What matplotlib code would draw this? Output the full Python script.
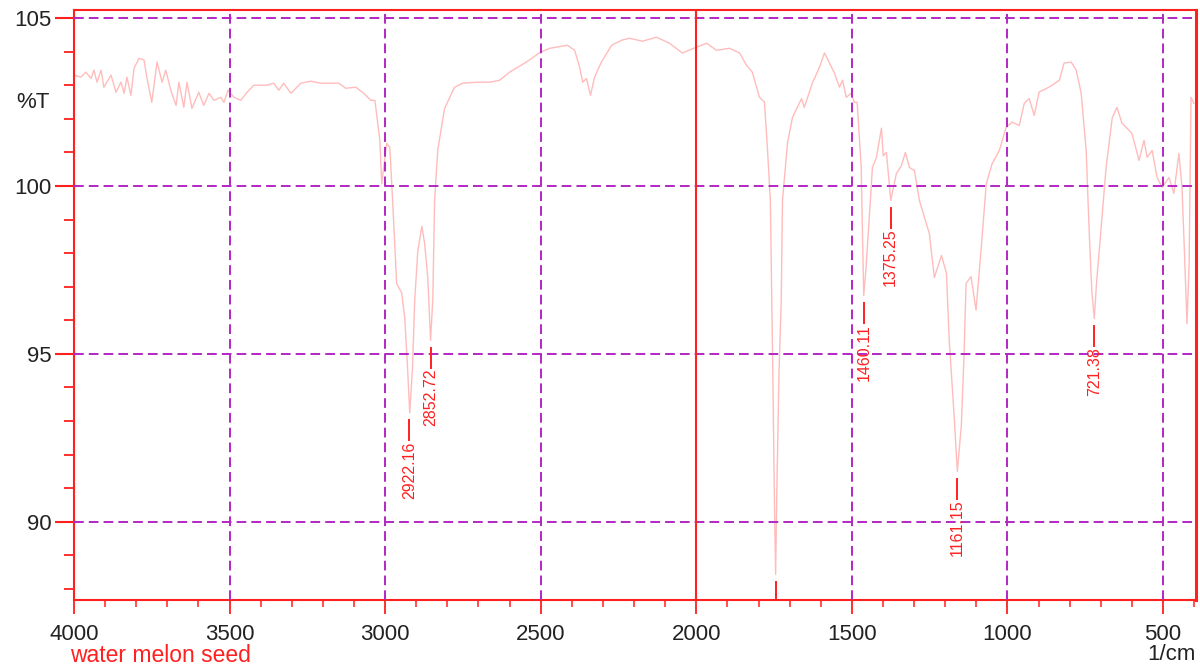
import matplotlib
matplotlib.use("Agg")
import matplotlib.pyplot as plt
from matplotlib.ticker import MultipleLocator, FixedLocator

# ---- data ----
wavenumber = [4000, 3978, 3962, 3945, 3936, 3926, 3913, 3904, 3881, 3865, 3849, 3839, 3830, 3817,
              3807, 3791, 3775, 3766, 3750, 3733, 3717, 3705, 3689, 3672, 3663, 3647, 3637, 3621,
              3599, 3583, 3566, 3550, 3528, 3518, 3505, 3486, 3464, 3444, 3422, 3380, 3358, 3342,
              3326, 3303, 3271, 3239, 3207, 3188, 3149, 3127, 3094, 3069, 3046, 3033, 3017, 3011,
              2995, 2985, 2976, 2963, 2947, 2937, 2928, 2921, 2912, 2905, 2895, 2882, 2873, 2863,
              2854, 2847, 2841, 2831, 2809, 2777, 2751, 2706, 2664, 2632, 2600, 2546, 2500, 2471,
              2414, 2391, 2375, 2365, 2353, 2340, 2327, 2305, 2272, 2240, 2215, 2173, 2128, 2086,
              2045, 2000, 1967, 1935, 1893, 1861, 1839, 1820, 1797, 1781, 1771, 1762, 1755, 1748,
              1745, 1741, 1734, 1727, 1723, 1707, 1691, 1662, 1653, 1627, 1604, 1588, 1572, 1556,
              1540, 1530, 1518, 1502, 1492, 1483, 1470, 1462, 1455, 1444, 1434, 1421, 1405, 1399,
              1389, 1375, 1357, 1341, 1328, 1315, 1299, 1283, 1251, 1235, 1212, 1196, 1187, 1171,
              1161, 1148, 1139, 1133, 1117, 1101, 1085, 1068, 1049, 1026, 1004, 985, 962, 946,
              930, 914, 898, 875, 856, 833, 818, 795, 779, 763, 747, 737, 729, 721,
              713, 705, 683, 663, 648, 632, 600, 577, 561, 551, 535, 519, 503, 481,
              465, 449, 439, 431, 423, 416, 410, 401]
transmittance = [103.30, 103.24, 103.39, 103.20, 103.45, 103.09, 103.45, 102.94, 103.30, 102.79, 103.09,
                 102.76, 103.24, 102.70, 103.51, 103.80, 103.75, 103.24, 102.49, 103.69, 103.09, 103.45,
                 102.85, 102.40, 103.09, 102.34, 103.09, 102.31, 102.79, 102.40, 102.76, 102.55, 102.64,
                 102.49, 102.85, 102.64, 102.55, 102.79, 103.00, 103.00, 103.06, 102.85, 103.06, 102.76,
                 103.06, 103.12, 103.06, 103.06, 103.06, 102.91, 102.94, 102.76, 102.55, 102.55, 101.36,
                 100.07, 101.27, 101.15, 99.57, 97.09, 96.82, 96.07, 94.58, 93.24, 94.60, 96.60, 98.07,
                 98.80, 98.28, 97.27, 95.40, 96.60, 99.57, 101.06, 102.31, 102.94, 103.06, 103.09, 103.09,
                 103.15, 103.39, 103.69, 103.99, 104.10, 104.19, 104.04, 103.54, 103.09, 103.20, 102.70,
                 103.24, 103.69, 104.19, 104.34, 104.40, 104.31, 104.43, 104.25, 103.96, 104.13, 104.25,
                 104.04, 104.10, 103.96, 103.60, 103.39, 102.64, 102.50, 101.06, 99.57, 95.00, 90.00,
                 88.43, 91.00, 94.50, 96.60, 99.57, 101.27, 102.04, 102.60, 102.34, 103.06, 103.54,
                 103.96, 103.66, 103.36, 102.94, 103.15, 102.64, 102.76, 102.49, 102.49, 100.55, 96.73,
                 97.50, 99.06, 100.55, 100.85, 101.72, 100.90, 101.00, 99.57, 100.37, 100.60, 101.00,
                 100.55, 100.46, 99.57, 98.58, 97.27, 97.93, 97.40, 95.40, 93.10, 91.50, 92.90, 95.10,
                 97.10, 97.30, 96.30, 98.07, 100.07, 100.67, 101.06, 101.75, 101.90, 101.80, 102.46,
                 102.60, 102.10, 102.80, 102.90, 103.00, 103.15, 103.66, 103.69, 103.45, 102.76, 101.06,
                 98.58, 96.90, 96.05, 97.20, 98.07, 100.55, 102.04, 102.34, 101.87, 101.57, 100.76,
                 101.36, 100.85, 101.06, 100.25, 99.96, 100.25, 99.78, 100.97, 99.96, 98.00, 95.90,
                 97.70, 102.64, 102.46]

peak_positions = [2922.16, 2852.72, 1460.11, 1375.25, 1161.15, 721.38]
peak_minima = [93.24, 95.40, 96.73, 99.57, 91.50, 96.05]
peak_labels = ["2922.16", "2852.72", "1460.11", "1375.25", "1161.15", "721.38"]
offscale_peak = 1745
offscale_min = 88.43

x_ticks = [4000, 3500, 3000, 2500, 2000, 1500, 1000, 500]
y_ticks = [90, 95, 100, 105]
x_grid = [3500, 3000, 2500, 1500, 1000, 500]

# ---- styling ----
RED = "#ff2020"
PURPLE = "#b327c4"
LINE = "#ffbcbc"
FONT = "Liberation Sans"

fig = plt.figure(figsize=(12, 6.66), dpi=100)
ax = fig.add_axes([74 / 1200, 1 - 600 / 666, 1122 / 1200, 590 / 666])

ax.plot(wavenumber, transmittance, color=LINE, lw=1.0, zorder=2)

ax.set_xlim(4000, 394)
ax.set_ylim(87.67, 105.24)

# grid
for gx in x_grid:
    ax.axvline(gx, color=PURPLE, lw=1.4, dashes=(5, 2.6), zorder=3)
for gy in y_ticks:
    ax.axhline(gy, color=PURPLE, lw=1.4, dashes=(5, 2.6), zorder=3)
ax.axvline(2000, color=RED, lw=1.5, zorder=4)

# spines
for name, sp in ax.spines.items():
    sp.set_color(RED)
    sp.set_linewidth(1.5)
ax.spines["right"].set_linewidth(2.2)

# ticks
ax.xaxis.set_major_locator(FixedLocator(x_ticks))
ax.xaxis.set_minor_locator(MultipleLocator(100))
ax.yaxis.set_major_locator(FixedLocator(y_ticks))
ax.yaxis.set_minor_locator(MultipleLocator(1))
ax.tick_params(axis="x", which="major", length=10, width=1.3, color=RED, direction="out",
               pad=7, labelsize=16, labelcolor="#222222")
ax.tick_params(axis="x", which="minor", length=5, width=1.1, color=RED, direction="out")
ax.tick_params(axis="y", which="major", length=14, width=1.5, color=RED, direction="out",
               pad=2, labelsize=16, labelcolor="#222222")
ax.tick_params(axis="y", which="minor", length=7, width=1.3, color=RED, direction="out")
for lab in ax.get_xticklabels() + ax.get_yticklabels():
    lab.set_fontfamily(FONT)

# peak markers and labels
for px, pm, pl in zip(peak_positions, peak_minima, peak_labels):
    top = pm - 0.22
    bot = top - 0.6
    ax.plot([px, px], [top, bot], color=RED, lw=1.4, zorder=5)
    ax.text(px, bot - 0.02, pl, rotation=90, ha="center", va="top", color=RED,
            fontsize=11.5, family=FONT, zorder=5)
ax.plot([offscale_peak, offscale_peak], [offscale_min - 0.22, 87.0], color=RED, lw=1.4,
        zorder=5, clip_on=True)

# texts
fig.text(33 / 1200, 1 - 103 / 666, "%T", ha="center", va="center", fontsize=16,
         family=FONT, color="#222222")
fig.text(70 / 1200, 1 - 655 / 666, "water melon seed", ha="left", va="center",
         fontsize=16.5, family=FONT, color=RED)
fig.text(1196 / 1200, 1 - 655 / 666, "1/cm", ha="right", va="center", fontsize=16,
         family=FONT, color="#222222")

fig.savefig("out.png", dpi=100)
